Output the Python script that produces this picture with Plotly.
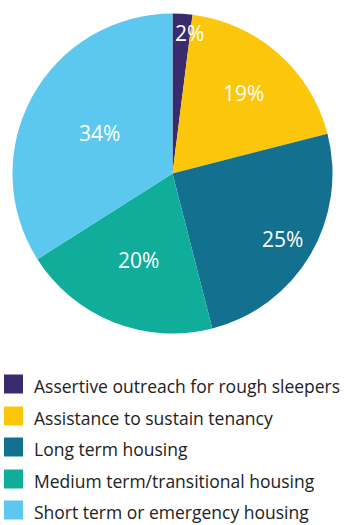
import math
import plotly.graph_objects as go

# Share of funding by service type
labels = [
    "Assertive outreach for rough sleepers",
    "Assistance to sustain tenancy",
    "Long term housing",
    "Medium term/transitional housing",
    "Short term or emergency housing",
]
shares = [2, 19, 25, 20, 34]
colors = ["#3a2a6e", "#fcc70a", "#13708e", "#10ae9a", "#5cc8f0"]

W, H = 358, 525
FONT = "Open Sans, Lato, sans-serif"

# Pie placement (pixels) and how far out each percentage label sits
CX, CY, R = 172.5, 173.5, 160
label_radius = [0.88, 0.67, 0.80, 0.58, 0.52]
label_xshift = [8, 0, 0, 0, 0]

fig = go.Figure(
    go.Pie(
        labels=labels,
        values=shares,
        sort=False,
        direction="clockwise",
        rotation=0,
        marker=dict(colors=colors, line=dict(width=0)),
        textinfo="none",
        hoverinfo="label+percent",
        domain=dict(x=[(CX - R) / W, (CX + R) / W],
                    y=[(H - CY - R) / H, (H - CY + R) / H]),
        showlegend=False,
    )
)

annotations = []

# Percentage labels placed along each slice's mid-angle
total = sum(shares)
cum = 0
for v, rf, xs in zip(shares, label_radius, label_xshift):
    mid = (cum + v / 2) / total * 2 * math.pi
    cum += v
    px = CX + rf * R * math.sin(mid)
    py = CY - rf * R * math.cos(mid)
    annotations.append(dict(
        text=f"{v}%", xref="paper", yref="paper",
        x=px / W, y=1 - py / H, xanchor="center", yanchor="middle",
        xshift=xs, showarrow=False,
        font=dict(size=21, color="white", family=FONT),
    ))

# Legend drawn as a column of swatches with labels beneath the pie
row_y = [384, 416, 447, 479, 510]
shapes = []
for lab, col, y in zip(labels, colors, row_y):
    shapes.append(dict(
        type="rect", xref="paper", yref="paper",
        x0=4 / W, x1=23 / W, y0=1 - (y + 9.5) / H, y1=1 - (y - 9.5) / H,
        fillcolor=col, line=dict(width=0),
    ))
    annotations.append(dict(
        text=lab, xref="paper", yref="paper",
        x=32 / W, y=1 - (y + 2) / H, xanchor="left", yanchor="middle",
        showarrow=False, font=dict(size=17.5, color="#222222", family=FONT),
    ))

fig.update_layout(
    width=W, height=H,
    margin=dict(l=0, r=0, t=0, b=0),
    paper_bgcolor="white",
    plot_bgcolor="white",
    shapes=shapes,
    annotations=annotations,
)

fig.write_html("out.html")
